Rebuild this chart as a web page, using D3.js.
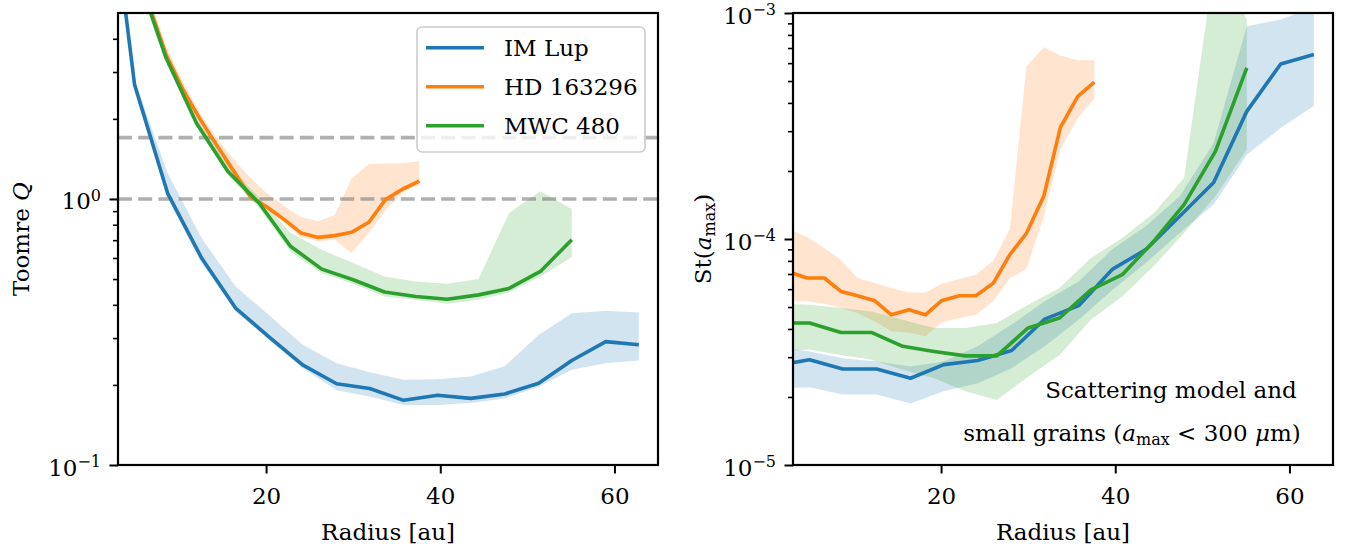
<!DOCTYPE html>
<html><head><meta charset="utf-8">
<script src="https://cdn.jsdelivr.net/npm/d3@7"></script>
<style>
body{margin:0;background:#fff}
svg{display:block}
text{font-family:"DejaVu Serif",serif;fill:#000}
</style>
</head><body>
<svg id="c" width="1346" height="550"></svg>
<script>
// ---------- data ----------
const seriesNames = ["IM Lup", "HD 163296", "MWC 480"];
const seriesColors = ["#1f77b4", "#ff7f0e", "#2ca02c"];

const radiiIM  = [1.0, 4.9, 8.7, 12.6, 16.5, 20.3, 24.2, 28.1, 31.9, 35.8, 39.7, 43.5, 47.4, 51.3, 55.1, 59.0, 62.8];
const radiiHD  = [2.7, 4.6, 6.6, 8.5, 10.4, 12.4, 14.3, 16.3, 18.2, 20.1, 22.1, 24.0, 26.0, 27.9, 29.8, 31.8, 33.7, 35.7, 37.6];
const radiiMWC = [1.3, 4.9, 8.5, 12.0, 15.6, 19.2, 22.8, 26.4, 30.0, 33.6, 37.2, 40.8, 44.4, 47.9, 51.5, 55.1];

// Toomre Q (left panel)
const qIM    = [29, 2.69, 1.05, 0.60, 0.389, 0.304, 0.238, 0.202, 0.194, 0.175, 0.183, 0.178, 0.185, 0.203, 0.247, 0.291, 0.283];
const qIMlo  = [27, 2.62, 1.01, 0.574, 0.378, 0.296, 0.231, 0.191, 0.181, 0.168, 0.168, 0.171, 0.178, 0.197, 0.228, 0.241, 0.247];
const qIMhi  = [31, 2.81, 1.25, 0.713, 0.469, 0.367, 0.283, 0.241, 0.223, 0.209, 0.210, 0.215, 0.235, 0.308, 0.372, 0.380, 0.374];

const qHD    = [15, 9, 5.3, 3.5, 2.6, 2.0, 1.6, 1.27, 1.02, 0.933, 0.836, 0.745, 0.717, 0.728, 0.749, 0.817, 0.994, 1.09, 1.166];
const qHDlo  = [14, 8.5, 5.0, 3.3, 2.51, 1.92, 1.53, 1.217, 0.994, 0.912, 0.808, 0.719, 0.693, 0.703, 0.626, 0.745, 0.906, 1.06, 1.13];
const qHDhi  = [16, 9.5, 5.7, 3.76, 2.77, 2.11, 1.70, 1.41, 1.20, 1.05, 0.938, 0.856, 0.824, 0.873, 1.19, 1.354, 1.358, 1.366, 1.386];

const qMWC   = [30, 7.5, 3.4, 1.93, 1.27, 0.966, 0.664, 0.545, 0.497, 0.447, 0.430, 0.420, 0.436, 0.461, 0.534, 0.703];
const qMWClo = [28, 7.2, 3.30, 1.88, 1.23, 0.925, 0.635, 0.526, 0.480, 0.430, 0.418, 0.404, 0.418, 0.445, 0.511, 0.605];
const qMWChi = [32, 7.8, 3.49, 2.02, 1.35, 1.01, 0.745, 0.644, 0.574, 0.511, 0.490, 0.480, 0.500, 0.886, 1.07, 0.917];

// Stokes number St(a_max) (right panel)
const stIM    = [2.75e-5, 2.92e-5, 2.66e-5, 2.66e-5, 2.42e-5, 2.78e-5, 2.90e-5, 3.21e-5, 4.42e-5, 5.07e-5, 7.36e-5, 8.97e-5, 1.26e-4, 1.78e-4, 3.67e-4, 5.95e-4, 6.55e-4];
const stIMlo  = [2.17e-5, 2.21e-5, 2.05e-5, 2.05e-5, 1.87e-5, 2.12e-5, 2.30e-5, 2.68e-5, 3.35e-5, 4.39e-5, 5.96e-5, 7.83e-5, 1.063e-4, 1.42e-4, 2.36e-4, 3.10e-4, 3.89e-4];
const stIMhi  = [3.35e-5, 3.18e-5, 2.97e-5, 2.87e-5, 2.73e-5, 2.87e-5, 3.35e-5, 4.18e-5, 5.30e-5, 6.49e-5, 9.03e-5, 1.138e-4, 1.545e-4, 2.66e-4, 8.74e-4, 9.36e-4, 1.06e-3];

const stHD    = [7.12e-5, 6.72e-5, 6.72e-5, 5.86e-5, 5.61e-5, 5.33e-5, 4.62e-5, 4.86e-5, 4.62e-5, 5.35e-5, 5.61e-5, 5.61e-5, 6.38e-5, 8.53e-5, 1.06e-4, 1.55e-4, 3.12e-4, 4.28e-4, 4.94e-4];
const stHDlo  = [5.30e-5, 5.30e-5, 5.17e-5, 4.95e-5, 4.70e-5, 4.32e-5, 3.90e-5, 3.86e-5, 3.71e-5, 4.28e-5, 4.47e-5, 4.62e-5, 5.30e-5, 6.72e-5, 7.36e-5, 1.26e-4, 2.49e-4, 3.43e-4, 4.17e-4];
const stHDhi  = [1.10e-4, 1.02e-4, 9.12e-5, 8.10e-5, 6.72e-5, 6.39e-5, 6.07e-5, 5.80e-5, 5.80e-5, 6.34e-5, 6.65e-5, 6.95e-5, 8.04e-5, 1.107e-4, 5.82e-4, 7.06e-4, 6.48e-4, 6.18e-4, 6.18e-4];

const stMWC   = [4.25e-5, 4.25e-5, 3.86e-5, 3.86e-5, 3.35e-5, 3.18e-5, 3.04e-5, 3.04e-5, 4.04e-5, 4.47e-5, 5.96e-5, 6.95e-5, 9.76e-5, 1.42e-4, 2.44e-4, 5.72e-4];
const stMWClo = [3.18e-5, 3.24e-5, 3.07e-5, 2.92e-5, 2.64e-5, 2.42e-5, 2.12e-5, 1.94e-5, 2.46e-5, 3.07e-5, 4.39e-5, 5.57e-5, 7.57e-5, 1.063e-4, 1.545e-4, 2.49e-4];
const stMWChi = [5.17e-5, 5.12e-5, 4.95e-5, 4.78e-5, 4.39e-5, 4.04e-5, 4.04e-5, 4.25e-5, 5.12e-5, 6.07e-5, 8.24e-5, 1.01e-4, 1.30e-4, 1.86e-4, 1.79e-3, 9.36e-4];

const xTicks = [20, 40, 60];
const qThresholds = [1.7, 1.0];
const leftMajor = [0.1, 1];
const leftMajorLabels = [["10", "\u22121"], ["10", "0"]];
const rightMajor = [1e-5, 1e-4, 1e-3];
const rightMajorLabels = [["10", "\u22125"], ["10", "\u22124"], ["10", "\u22123"]];

// ---------- layout ----------
const svg = d3.select("#c");
const TOP = 13, BOTTOM = 465;
const FS = 23, FS_SMALL = 16;
const FONT = '"DejaVu Serif",serif';
const xDomain = [3.0, 65.0];

function minorTicks(domain) {
  const out = [];
  const lo = Math.floor(Math.log10(domain[0])), hi = Math.ceil(Math.log10(domain[1]));
  for (let e = lo; e < hi; e++) for (let m = 2; m <= 9; m++) {
    const v = m * Math.pow(10, e);
    if (v > domain[0] * 1.0001 && v < domain[1] * 0.9999) out.push(v);
  }
  return out;
}

function drawPanel(cfg) {
  const g = svg.append("g");
  const x = d3.scaleLinear().domain(xDomain).range([cfg.x0, cfg.x1]);
  const y = d3.scaleLog().domain(cfg.yDomain).range([BOTTOM, TOP]);
  const clipId = "clip" + cfg.id;
  svg.append("clipPath").attr("id", clipId).append("rect")
    .attr("x", cfg.x0).attr("y", TOP).attr("width", cfg.x1 - cfg.x0).attr("height", BOTTOM - TOP);
  const plot = g.append("g").attr("clip-path", `url(#${clipId})`);

  // bands
  cfg.series.forEach((s, i) => {
    const pts = s.r.map((r, k) => [r, s.lo[k], s.hi[k]]);
    plot.append("path").datum(pts)
      .attr("d", d3.area().x(d => x(d[0])).y0(d => y(d[1])).y1(d => y(d[2])))
      .attr("fill", seriesColors[i]).attr("fill-opacity", 0.2).attr("stroke", "none");
  });
  // dashed thresholds
  (cfg.hlines || []).forEach(v => {
    plot.append("line").attr("x1", cfg.x0).attr("x2", cfg.x1).attr("y1", y(v)).attr("y2", y(v))
      .attr("stroke", "#808080").attr("stroke-opacity", 0.62).attr("stroke-width", 3.6)
      .attr("stroke-dasharray", "14,6.2");
  });
  // lines
  cfg.series.forEach((s, i) => {
    const pts = s.r.map((r, k) => [r, s.v[k]]);
    plot.append("path").datum(pts)
      .attr("d", d3.line().x(d => x(d[0])).y(d => y(d[1])))
      .attr("fill", "none").attr("stroke", seriesColors[i]).attr("stroke-width", 3.6)
      .attr("stroke-linejoin", "round");
  });

  // x axis
  const xa = g.append("g").attr("transform", `translate(0,${BOTTOM})`)
    .call(d3.axisBottom(x).tickValues(xTicks).tickFormat(d3.format("d")).tickSize(8.5).tickSizeOuter(0));
  xa.attr("font-family", FONT);
  xa.select(".domain").remove();
  xa.selectAll(".tick line").attr("stroke", "#000").attr("stroke-width", 2);
  xa.selectAll(".tick text").attr("y", 39).attr("dy", 0).style("font-size", FS + "px")
    .style("font-family", FONT);

  // y minor ticks
  const ym = g.append("g").attr("transform", `translate(${cfg.x0},0)`)
    .call(d3.axisLeft(y).tickValues(minorTicks(cfg.yDomain)).tickFormat("").tickSize(5).tickSizeOuter(0));
  ym.select(".domain").remove();
  ym.selectAll(".tick line").attr("stroke", "#000").attr("stroke-width", 1.6);
  // y major ticks
  const ya = g.append("g").attr("transform", `translate(${cfg.x0},0)`)
    .call(d3.axisLeft(y).tickValues(cfg.majors).tickFormat("").tickSize(8.5).tickSizeOuter(0));
  ya.attr("font-family", FONT);
  ya.select(".domain").remove();
  ya.selectAll(".tick line").attr("stroke", "#000").attr("stroke-width", 2);
  ya.selectAll(".tick").each(function(d, i) {
    const t = d3.select(this).select("text");
    t.attr("x", -17).attr("dy", 0).attr("y", 10).attr("text-anchor", "end")
      .style("font-size", FS + "px").style("font-family", FONT).text(null);
    const lab = cfg.majorLabels[i];
    t.append("tspan").text(lab[0]);
    t.append("tspan").attr("dy", -8.5).style("font-size", FS_SMALL + "px").text(lab[1]);
  });

  // frame
  g.append("rect").attr("x", cfg.x0).attr("y", TOP).attr("width", cfg.x1 - cfg.x0).attr("height", BOTTOM - TOP)
    .attr("fill", "none").attr("stroke", "#000").attr("stroke-width", 2.2);

  // x label
  g.append("text").attr("x", (cfg.x0 + cfg.x1) / 2).attr("y", 540).attr("text-anchor", "middle")
    .style("font-size", FS + "px").text("Radius [au]");
  return {g, x, y};
}

const left = drawPanel({
  id: "L", x0: 118, x1: 658, yDomain: [0.1, 5], majors: leftMajor, majorLabels: leftMajorLabels,
  hlines: qThresholds,
  series: [
    {r: radiiIM, v: qIM, lo: qIMlo, hi: qIMhi},
    {r: radiiHD, v: qHD, lo: qHDlo, hi: qHDhi},
    {r: radiiMWC, v: qMWC, lo: qMWClo, hi: qMWChi}
  ]
});
const right = drawPanel({
  id: "R", x0: 793, x1: 1333, yDomain: [1e-5, 1e-3], majors: rightMajor, majorLabels: rightMajorLabels,
  series: [
    {r: radiiIM, v: stIM, lo: stIMlo, hi: stIMhi},
    {r: radiiHD, v: stHD, lo: stHDlo, hi: stHDhi},
    {r: radiiMWC, v: stMWC, lo: stMWClo, hi: stMWChi}
  ]
});

// y labels
const yl = svg.append("text").attr("transform", "translate(29,239) rotate(-90)").attr("text-anchor", "middle")
  .style("font-size", FS + "px");
yl.append("tspan").text("Toomre ");
yl.append("tspan").style("font-style", "italic").text("Q");

const yr = svg.append("text").attr("transform", "translate(711,239) rotate(-90)").attr("text-anchor", "middle")
  .style("font-size", FS + "px");
yr.append("tspan").text("St(");
yr.append("tspan").style("font-style", "italic").text("a");
yr.append("tspan").attr("dy", 4).style("font-size", FS_SMALL + "px").text("max");
yr.append("tspan").attr("dy", -4).text(")");

// legend
const lg = left.g.append("g");
lg.append("rect").attr("x", 417).attr("y", 27).attr("width", 228).attr("height", 125).attr("rx", 5)
  .attr("fill", "#fff").attr("fill-opacity", 0.8).attr("stroke", "#cccccc").attr("stroke-width", 1.6);
seriesNames.forEach((n, i) => {
  const yy = 47.7 + i * 39;
  lg.append("line").attr("x1", 426).attr("x2", 484).attr("y1", yy).attr("y2", yy)
    .attr("stroke", seriesColors[i]).attr("stroke-width", 3.6);
  lg.append("text").attr("x", 504).attr("y", yy + 8.5).style("font-size", FS + "px").text(n);
});

// annotation in right panel
svg.append("text").attr("x", 1171).attr("y", 398).attr("text-anchor", "middle").style("font-size", FS + "px")
  .text("Scattering model and");
const a2 = svg.append("text").attr("x", 1132).attr("y", 441).attr("text-anchor", "middle").style("font-size", FS + "px");
a2.append("tspan").text("small grains (");
a2.append("tspan").style("font-style", "italic").text("a");
a2.append("tspan").attr("dy", 4).style("font-size", FS_SMALL + "px").text("max");
a2.append("tspan").attr("dy", -4).text(" < 300 ");
a2.append("tspan").style("font-style", "italic").text("\u03bc");
a2.append("tspan").text("m)");
</script>
</body></html>
